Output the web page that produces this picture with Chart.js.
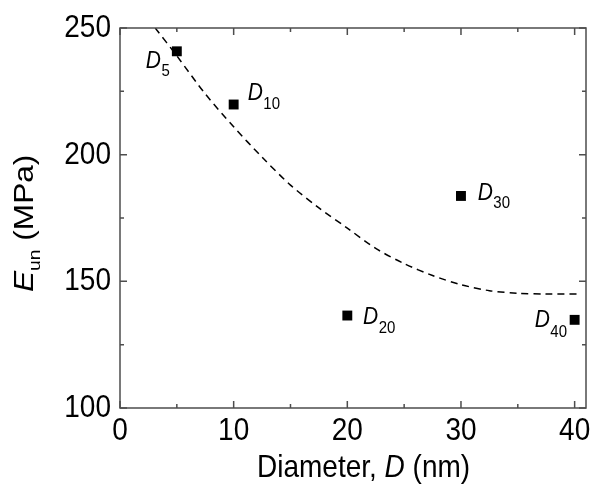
<!DOCTYPE html>
<html>
<head>
<meta charset="utf-8">
<script src="https://cdn.jsdelivr.net/npm/chart.js@4/dist/chart.umd.min.js"></script>
<style>
  html, body { margin: 0; padding: 0; background: #fff; }
  #wrap { width: 600px; height: 494px; position: relative; }
</style>
</head>
<body>
<div id="wrap"><canvas id="c" width="600" height="494"></canvas></div>
<script>
// ---- data ----
const sampleNames = ['5', '10', '20', '30', '40'];
const diameters = [5, 10, 20, 30, 40];
const modulus = [240.8, 219.8, 136.5, 183.7, 134.8];

const fitX = [3.1, 5, 7.5, 10, 12.5, 15, 17.5, 20, 22.5, 25, 27.5, 30, 32.5, 35, 37.5, 40.5];
const fitY = [250, 239, 224, 211, 199, 188, 179, 171, 163, 157, 152.3, 148.7, 146.3, 145.3, 145, 145];

const xTickValues = [0, 10, 20, 30, 40];
const xTickLabels = ['0', '10', '20', '30', '40'];
const xMinorValues = [5, 15, 25, 35];
const yTickValues = [100, 150, 200, 250];
const yTickLabels = ['100', '150', '200', '250'];
const yMinorValues = [125, 175, 225];

const xTitleParts = ['Diameter, ', 'D', ' (nm)'];
const yTitleParts = ['E', 'un', ' (MPa)'];

// label placement (style, not data)
const labelPlacement = [
  { dx: -31, dy: 16.7, sub: 8.3 },
  { dx: 14, dy: -5, sub: 9 },
  { dx: 15.7, dy: 8, sub: 9.7 },
  { dx: 16.7, dy: 4.3, sub: 8 },
  { dx: -40, dy: 7.4, sub: 9.3 }
];

const FONT = '"Liberation Sans", Arial, sans-serif';
const AXIS_COLOR = '#4d4d4d';
const STRETCH = 1.13;

function stretchedText(ctx, str, x, y, font, align, sy) {
  ctx.save();
  ctx.translate(x, y);
  ctx.scale(1, sy);
  ctx.font = font;
  ctx.textAlign = align;
  ctx.textBaseline = 'alphabetic';
  ctx.fillText(str, 0, 0);
  ctx.restore();
}

const framePlugin = {
  id: 'frame',
  afterDraw(chart) {
    const { ctx, chartArea: a, scales } = chart;
    ctx.save();
    ctx.strokeStyle = AXIS_COLOR;
    ctx.lineWidth = 1.5;
    ctx.strokeRect(a.left, a.top, a.right - a.left, a.bottom - a.top);
    const major = 7, minor = 4;
    ctx.beginPath();
    const xt = (v, len) => {
      const p = scales.x.getPixelForValue(v);
      ctx.moveTo(p, a.bottom); ctx.lineTo(p, a.bottom - len);
      ctx.moveTo(p, a.top); ctx.lineTo(p, a.top + len);
    };
    const yt = (v, len) => {
      const p = scales.y.getPixelForValue(v);
      ctx.moveTo(a.left, p); ctx.lineTo(a.left + len, p);
      ctx.moveTo(a.right, p); ctx.lineTo(a.right - len, p);
    };
    xTickValues.forEach(v => xt(v, major));
    xMinorValues.forEach(v => xt(v, minor));
    yTickValues.forEach(v => yt(v, major));
    yMinorValues.forEach(v => yt(v, minor));
    ctx.stroke();

    ctx.fillStyle = '#000';
    const tickFont = '28px ' + FONT;
    xTickValues.forEach((v, i) => {
      stretchedText(ctx, xTickLabels[i], scales.x.getPixelForValue(v), 440, tickFont, 'center', STRETCH);
    });
    yTickValues.forEach((v, i) => {
      stretchedText(ctx, yTickLabels[i], 111, scales.y.getPixelForValue(v) + 9, tickFont, 'right', STRETCH);
    });

    // point labels
    diameters.forEach((d, i) => {
      const px = scales.x.getPixelForValue(d);
      const py = scales.y.getPixelForValue(modulus[i]);
      const pl = labelPlacement[i];
      const x0 = px + pl.dx, y0 = py + pl.dy;
      const f1 = 'italic 21px ' + FONT;
      stretchedText(ctx, 'D', x0, y0, f1, 'left', STRETCH);
      ctx.font = f1;
      const w = ctx.measureText('D').width;
      stretchedText(ctx, sampleNames[i], x0 + w + 0.5, y0 + pl.sub, '15px ' + FONT, 'left', STRETCH);
    });

    // x-axis title
    const xFonts = ['28px ' + FONT, 'italic 28px ' + FONT, '28px ' + FONT];
    let x = 257;
    xTitleParts.forEach((t, i) => {
      stretchedText(ctx, t, x, 477, xFonts[i], 'left', STRETCH);
      ctx.font = xFonts[i];
      x += ctx.measureText(t).width;
    });

    // y-axis title (rotated, stretched along screen vertical)
    ctx.save();
    ctx.translate(33, 292);
    ctx.rotate(-Math.PI / 2);
    ctx.scale(STRETCH, 1);
    const yFonts = ['italic 28px ' + FONT, '17px ' + FONT, '28px ' + FONT];
    const yDy = [0, 7, 0];
    let yx = 0;
    ctx.textAlign = 'left';
    ctx.textBaseline = 'alphabetic';
    yTitleParts.forEach((t, i) => {
      ctx.font = yFonts[i];
      ctx.fillText(t, yx, yDy[i]);
      yx += ctx.measureText(t).width;
    });
    ctx.restore();
    ctx.restore();
  }
};

new Chart(document.getElementById('c'), {
  type: 'scatter',
  data: {
    datasets: [
      {
        label: 'fit',
        data: fitX.map((x, i) => ({ x, y: fitY[i] })),
        showLine: true,
        borderColor: '#000',
        borderWidth: 1.5,
        borderDash: [7, 5],
        pointRadius: 0,
        tension: 0.3,
        fill: false,
        order: 2
      },
      {
        label: 'E',
        data: diameters.map((x, i) => ({ x, y: modulus[i] })),
        pointStyle: 'rect',
        pointRadius: 7,
        pointBackgroundColor: '#000',
        pointBorderColor: '#000',
        pointBorderWidth: 0,
        showLine: false,
        order: 1
      }
    ]
  },
  options: {
    responsive: false,
    animation: false,
    devicePixelRatio: 1,
    layout: { padding: { left: 0, right: 14, top: 28, bottom: 0 } },
    plugins: { legend: { display: false }, tooltip: { enabled: false } },
    scales: {
      x: {
        type: 'linear',
        min: 0, max: 41,
        afterBuildTicks: s => { s.ticks = xTickValues.map(v => ({ value: v })); },
        afterFit: s => { s.height = 86; },
        grid: { display: false },
        border: { display: false },
        ticks: { display: false }
      },
      y: {
        type: 'linear',
        min: 100, max: 250,
        afterBuildTicks: s => { s.ticks = yTickValues.map(v => ({ value: v })); },
        afterFit: s => { s.width = 120; },
        grid: { display: false },
        border: { display: false },
        ticks: { display: false }
      }
    }
  },
  plugins: [framePlugin]
});
</script>
</body>
</html>
